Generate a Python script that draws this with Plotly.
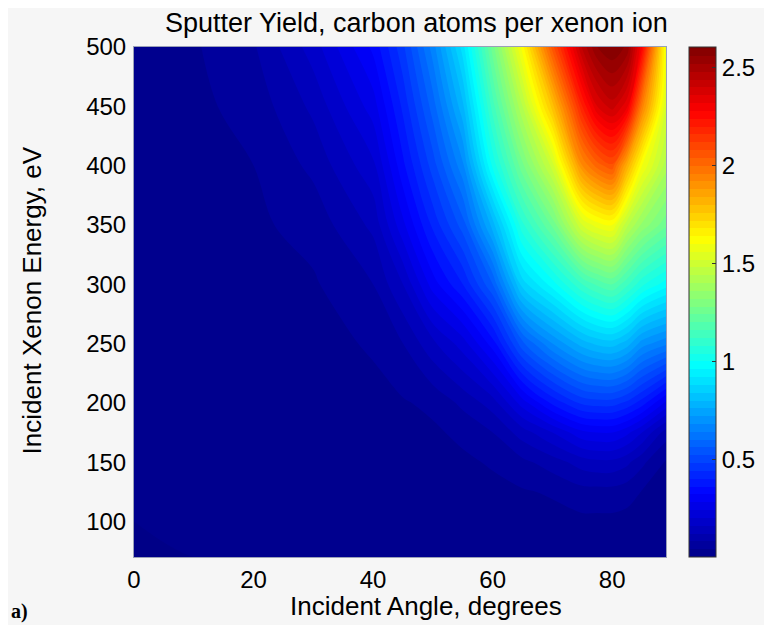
import plotly.graph_objects as go

# Incident angle (degrees) and incident xenon energy (eV)
angles = [0, 10, 20, 30, 40, 45, 50, 55, 60, 65, 70, 75, 77.5, 80, 82.5, 85, 89]
energies = [70, 100, 125, 150, 175, 200, 250, 300, 350, 400, 450, 500]

# Sputter yield (carbon atoms per xenon ion), one row per energy, across angles
y_e70 = [0, 0, 0, 0.002, 0.004, 0.005, 0.006, 0.007, 0.008, 0.01, 0.012, 0.015, 0.015, 0.015, 0.013, 0.01, 0.008]
y_e100 = [0, 0.002, 0.002, 0.004, 0.008, 0.01, 0.012, 0.014, 0.017, 0.02, 0.025, 0.03, 0.03, 0.03, 0.027, 0.022, 0.015]
y_e125 = [0.002, 0.004, 0.004, 0.006, 0.012, 0.015, 0.018, 0.022, 0.028, 0.036, 0.045, 0.065, 0.065, 0.065, 0.055, 0.038, 0.025]
y_e150 = [0.004, 0.006, 0.006, 0.01, 0.016, 0.02, 0.025, 0.032, 0.045, 0.07, 0.1, 0.14, 0.15, 0.15, 0.13, 0.09, 0.035]
y_e175 = [0.006, 0.008, 0.01, 0.013, 0.022, 0.028, 0.033, 0.05, 0.08, 0.14, 0.2, 0.27, 0.28, 0.28, 0.25, 0.2, 0.1]
y_e200 = [0.008, 0.01, 0.012, 0.016, 0.028, 0.036, 0.05, 0.09, 0.14, 0.26, 0.37, 0.45, 0.46, 0.46, 0.43, 0.38, 0.27]
y_e250 = [0.01, 0.014, 0.018, 0.025, 0.045, 0.08, 0.15, 0.22, 0.34, 0.55, 0.68, 0.78, 0.81, 0.82, 0.78, 0.7, 0.65]
y_e300 = [0.012, 0.018, 0.025, 0.035, 0.08, 0.16, 0.3, 0.4, 0.56, 0.86, 0.98, 1.12, 1.17, 1.2, 1.13, 1.05, 0.98]
y_e350 = [0.015, 0.022, 0.032, 0.055, 0.13, 0.27, 0.41, 0.54, 0.78, 1.07, 1.25, 1.52, 1.58, 1.6, 1.45, 1.35, 1.25]
y_e400 = [0.018, 0.026, 0.04, 0.09, 0.19, 0.35, 0.5, 0.67, 1.01, 1.27, 1.5, 1.92, 2.02, 2.07, 1.83, 1.6, 1.42]
y_e450 = [0.02, 0.03, 0.055, 0.13, 0.26, 0.41, 0.58, 0.79, 1.14, 1.44, 1.78, 2.2, 2.36, 2.42, 2.33, 1.95, 1.52]
y_e500 = [0.022, 0.035, 0.075, 0.18, 0.33, 0.47, 0.66, 0.9, 1.26, 1.62, 2.06, 2.45, 2.56, 2.6, 2.55, 2.28, 1.58]

z = [y_e70, y_e100, y_e125, y_e150, y_e175, y_e200,
     y_e250, y_e300, y_e350, y_e400, y_e450, y_e500]

x_ticks = [0, 20, 40, 60, 80]
y_ticks = [100, 150, 200, 250, 300, 350, 400, 450, 500]
cb_ticks = [0.5, 1, 1.5, 2, 2.5]

jet = [[0.0, "#000087"], [0.125, "#0000FF"], [0.375, "#00FFFF"],
       [0.625, "#FFFF00"], [0.875, "#FF0000"], [1.0, "#800000"]]

# The page body has an 8 px margin, so the figure is drawn offset by 8 px.
OFF = 8
W, H = 772 - OFF, 625 - OFF
px_left, px_right, px_top, px_bottom = 134 - OFF, 668 - OFF, 47 - OFF, 557 - OFF
L, R, T, B = px_left, W - px_right, px_top, H - px_bottom
pw = px_right - px_left
ph = px_bottom - px_top


def fx(p):
    return (p - OFF - px_left) / pw


def fy(p):
    return (px_bottom - (p - OFF)) / ph


FONT = "Liberation Sans, Arial, Helvetica"

fig = go.Figure(go.Contour(
    x=angles, y=energies, z=z,
    colorscale=jet, zmin=0, zmax=2.607,
    contours=dict(start=0, end=2.607, size=0.04, coloring="fill", showlines=False),
    line=dict(width=0),
    hoverinfo="skip",
    colorbar=dict(
        x=fx(691), xanchor="left", xref="paper",
        y=0.5, yanchor="middle", len=1.0, lenmode="fraction",
        thickness=27, outlinewidth=1, outlinecolor="#333333",
        tickvals=cb_ticks, ticktext=["0.5", "1", "1.5", "2", "2.5"],
        ticks="inside", ticklen=4, tickcolor="#333333",
        tickfont=dict(family=FONT, size=24, color="black"),
        ypad=0, xpad=0,
    ),
))

fig.update_layout(
    width=W, height=H,
    margin=dict(l=L, r=R, t=T, b=B),
    paper_bgcolor="#f6f6f6", plot_bgcolor="#f6f6f6",
    font=dict(family=FONT, size=24, color="black"),
    showlegend=False,
)
fig.update_xaxes(
    range=[0, 89], tickvals=x_ticks, ticks="outside", ticklen=1,
    tickcolor="rgba(0,0,0,0)", showgrid=False, zeroline=False,
    showline=True, linecolor="#9aa0b8", linewidth=1, mirror=True,
    tickfont=dict(size=24),
)
fig.update_yaxes(
    range=[70, 500], tickvals=y_ticks, ticks="outside", ticklen=2,
    tickcolor="rgba(0,0,0,0)", showgrid=False, zeroline=False,
    showline=True, linecolor="#9aa0b8", linewidth=1, mirror=True,
    tickfont=dict(size=24),
)

fig.add_annotation(text="Sputter Yield, carbon atoms per xenon ion",
                   xref="paper", yref="paper", x=fx(418), y=fy(23),
                   xanchor="center", yanchor="middle", showarrow=False,
                   font=dict(size=27, family=FONT))
fig.add_annotation(text="Incident Angle, degrees",
                   xref="paper", yref="paper", x=fx(427), y=fy(606),
                   xanchor="center", yanchor="middle", showarrow=False,
                   font=dict(size=26, family=FONT))
fig.add_annotation(text="Incident Xenon Energy, eV", textangle=-90,
                   xref="paper", yref="paper", x=fx(32), y=fy(300),
                   xanchor="center", yanchor="middle", showarrow=False,
                   font=dict(size=26, family=FONT))
fig.add_annotation(text="<b>a)</b>",
                   xref="paper", yref="paper", x=fx(9), y=fy(611),
                   xanchor="left", yanchor="middle", showarrow=False,
                   font=dict(size=20, family="Liberation Serif, Times New Roman"))

fig.write_html("out.html")
